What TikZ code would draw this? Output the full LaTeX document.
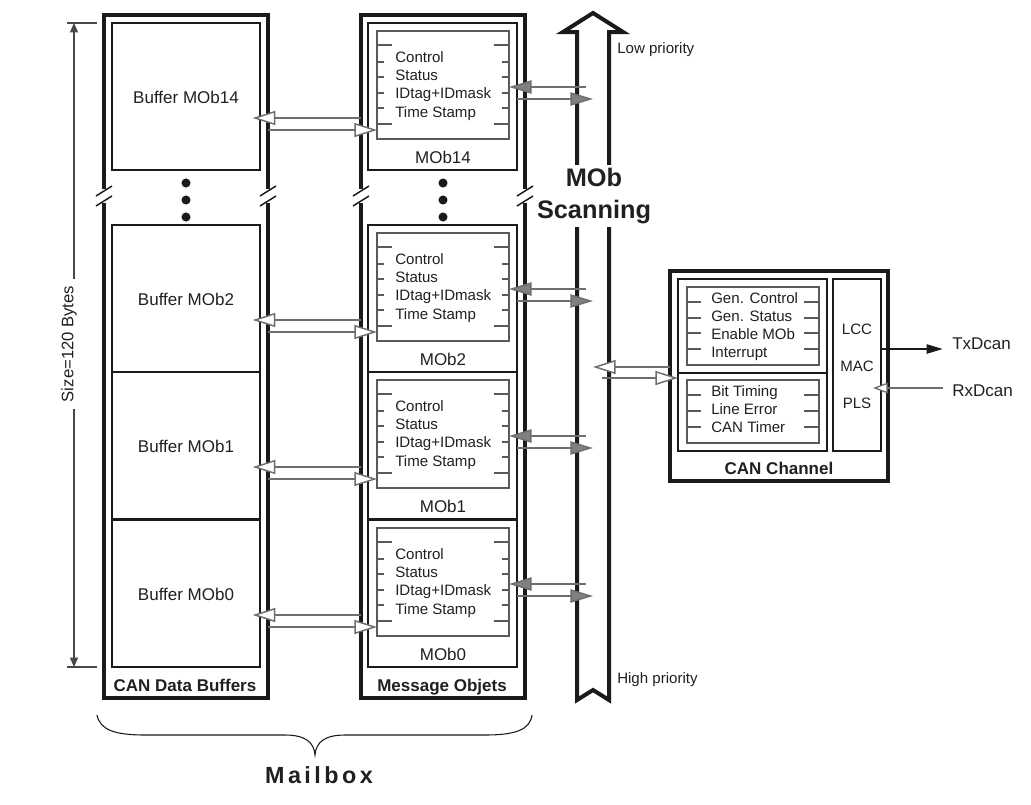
\documentclass[tikz,border=0pt]{standalone}
\usepackage{fontspec}
\setmainfont{Liberation Sans}
\usetikzlibrary{arrows.meta,fit}
\definecolor{frm}{HTML}{1A1A1A}
\definecolor{lgray}{HTML}{6E6E6E}
\definecolor{hgray}{HTML}{808080}
\definecolor{rgray}{HTML}{5A5A5A}
\definecolor{txt}{HTML}{202020}
\begin{document}
\begin{tikzpicture}[x=0.75pt,y=-0.75pt,
  thickframe/.style={draw=frm,line width=3pt,inner sep=0pt,outer sep=0pt},
  frametwo/.style={draw=frm,line width=1.6pt,inner sep=0pt,outer sep=0pt},
  regbox/.style={draw=rgray,line width=0.9pt,inner sep=0pt,outer sep=0pt},
  tickln/.style={draw=rgray,line width=0.9pt},
  brk/.style={draw=frm,line width=1.1pt},
  rt/.style={anchor=base west,inner sep=0pt,font=\fontsize{11.3}{13}\selectfont,text=txt},
  lbl/.style={anchor=base,inner sep=0pt,font=\fontsize{12.75}{15}\selectfont,text=txt},
  blbl/.style={anchor=base,inner sep=0pt,font=\bfseries\fontsize{12.75}{15}\selectfont,text=txt},
  wa/.style={draw=lgray,line width=1.1pt,-{Triangle[length=17pt,width=10.5pt,fill=white]}},
  ga/.style={draw=lgray,line width=1.1pt,-{Triangle[length=17pt,width=10pt,fill=hgray]}},
  sa/.style={draw=frm!80,line width=0.8pt,-{Triangle[length=7pt,width=6pt]}},
]
\fill[white] (0,0) rectangle (1031,804);
\useasboundingbox (0,0) rectangle (1031,804);

% ---- columns
\node[thickframe,fit={(104,15) (268,698)}] (bufcol) {};
\node[thickframe,fit={(361,15) (525,698)}] (mobcol) {};

% ---- break marks
\foreach \bx in {104,268,361,525}{
  \fill[white] (\bx-4,189) rectangle (\bx+4,203);
  \draw[brk] (\bx-8,196) -- (\bx+8,186);
  \draw[brk] (\bx-8,206) -- (\bx+8,196);
}
% ---- dots
\foreach \dx in {186,443}{
  \foreach \dy in {183,200,217}{
    \fill[frm] (\dx,\dy) circle (3.4pt);
  }
}

% ---- scanning bus
\draw[draw=frm,line width=3pt,fill=white,miter limit=10]
  (577,700) -- (577,32) -- (563,32) -- (593,13) -- (623,32) -- (609,32)
  -- (609,700) -- (593,690) -- cycle;
\node[anchor=base west,inner sep=0pt,font=\fontsize{11.3}{13}\selectfont,text=txt] (lowp) at (617,53) {Low priority};
\node[anchor=base west,inner sep=0pt,font=\fontsize{11.3}{13}\selectfont,text=txt] (highp) at (617,683) {High priority};

% ---- buffers and message objects
\foreach \nm/\tp in {14/23,2/225,1/372,0/520}{
  \node[frametwo,fit={(112,\tp) (260,\tp+147)}] (buf\nm) {};
  \node[lbl] (bufl\nm) at (186,\tp+80) {Buffer MOb\nm};
  \node[frametwo,fit={(368,\tp) (517,\tp+147)}] (mobf\nm) {};
  \node[regbox,fit={(377,\tp+8) (509,\tp+116)}] (reg\nm) {};
  \foreach \o/\l in {22/15,39/7,54/7,70/7,85/7,101/15}{
    \draw[tickln] (377,\tp+\o) -- ++(\l,0);
    \draw[tickln] (509,\tp+\o) -- ++(-\l,0);
  }
  \node[rt] (ctl\nm) at (395,\tp+39) {Control};
  \node[rt] (sts\nm) at (395,\tp+57) {Status};
  \node[rt] (idt\nm) at (395,\tp+75) {IDtag+IDmask};
  \node[rt] (tst\nm) at (395,\tp+94) {Time Stamp};
  \node[lbl] (mobl\nm) at (443,\tp+140) {MOb\nm};
  % buffer <-> MOb arrows
  \draw[wa,shorten >=-5.5pt] (mobcol.west |- 0,\tp+95) -- (buf\nm.east |- 0,\tp+95);
  \draw[wa] (bufcol.east |- 0,\tp+107) -- (reg\nm.west |- 0,\tp+107);
  % MOb <-> bus arrows
  \coordinate (bin\nm) at (586,\tp+64);
  \coordinate (bout\nm) at (593,\tp+76);
  \draw[ga] (bin\nm) -- (reg\nm.east |- bin\nm);
  \draw[ga] (mobf\nm.east |- bout\nm) -- (bout\nm);
}

\node[blbl] (cdb) at (185,691) {CAN Data Buffers};
\node[blbl] (mso) at (442,691) {Message Objets};

% ---- MOb Scanning label
\node[fill=white,inner sep=2pt,align=center,text=txt,
      font=\bfseries\fontsize{19}{24}\selectfont] (scan) at (594,196) {MOb\\Scanning};

% ---- CAN channel
\node[thickframe,fit={(670,271) (888,481)}] (can) {};
\node[frametwo,fit={(678,279) (827,373)}] (canu) {};
\node[frametwo,fit={(678,373) (827,451)}] (canl) {};
\node[frametwo,fit={(833,279) (881,451)}] (phy) {};
\node[regbox,fit={(687,287) (819,365)}] (regu) {};
\node[regbox,fit={(687,380) (819,443)}] (regl) {};
\foreach \yy in {302,318,333,349,395,411,427}{
  \draw[tickln] (687,\yy) -- ++(14,0);
  \draw[tickln] (819,\yy) -- ++(-15,0);
}
\foreach \yy/\tx [count=\k] in {303/Gen. Control,321/Gen. Status,339/Enable MOb,357/Interrupt,396/Bit Timing,414/Line Error,432/CAN Timer}{
  \node[rt] (cr\k) at (711,\yy) {\tx};
}
\node[rt,anchor=base] (lcc) at (857,334) {LCC};
\node[rt,anchor=base] (mac) at (857,371) {MAC};
\node[rt,anchor=base] (pls) at (857,408) {PLS};
\node[blbl] (canlbl) at (779,474) {CAN Channel};

% bus <-> CAN channel
\coordinate (cbout) at (593,367);
\coordinate (cbin) at (602,378);
\draw[wa] (can.west |- cbout) -- (cbout);
\draw[wa] (cbin) -- (canl.west |- cbin);

% TxDcan / RxDcan
\node[lbl,anchor=base west] (tx) at (952,349) {TxDcan};
\node[lbl,anchor=base west] (rx) at (952,396) {RxDcan};
\draw[draw=frm,line width=1pt,-{Triangle[length=12pt,width=7pt]},shorten >=7pt]
  (phy.east |- 0,349) -- (tx.west |- 0,349);
\draw[draw=lgray,line width=1pt,-{Triangle[length=11pt,width=8pt,fill=white]},shorten <=7pt,shorten >=-6pt]
  (rx.west |- 0,388) -- (phy.east |- 0,388);

% ---- size dimension
\coordinate (sztop) at (74,23);
\coordinate (szbot) at (74,667);
\draw[draw=frm!80,line width=0.8pt] (67,23) -- (97,23);
\draw[draw=frm!80,line width=0.8pt] (67,667) -- (97,667);
\node[rotate=90,inner sep=5pt,text=txt,font=\fontsize{12.5}{14}\selectfont] (sz) at (69,344) {Size=120 Bytes};
\draw[sa] (sztop |- sz.east) -- (sztop);
\draw[sa] (szbot |- sz.west) -- (szbot);

% ---- Mailbox brace
\draw[draw=frm,line width=0.8pt] (97,715) .. controls (100,730) and (115,735) .. (145,735)
  -- (285,735) .. controls (305,735) and (314,742) .. (315,755)
  .. controls (316,742) and (325,735) .. (345,735)
  -- (485,735) .. controls (515,735) and (530,730) .. (532,715);
\node[inner sep=0pt,text=txt,font=\bfseries\fontsize{17.5}{20}\selectfont\addfontfeature{LetterSpace=15}] (mbx) at (319,775) {Mailbox};
\end{tikzpicture}
\end{document}
